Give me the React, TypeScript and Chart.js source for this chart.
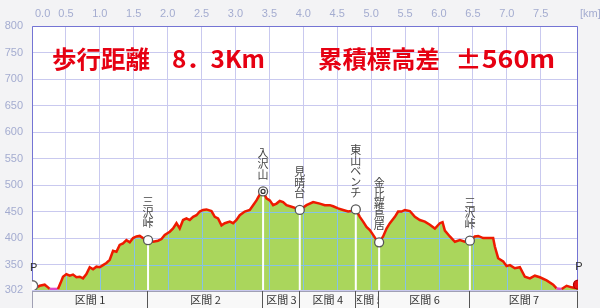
import React, { useEffect, useRef } from 'react';
import { Chart, registerables } from 'chart.js';

Chart.register(...registerables);

// ---- data ----
const distanceKm = [
  0.01, 0.065, 0.114, 0.187, 0.236, 0.261, 0.383, 0.42, 0.457, 0.507, 0.556, 0.605, 0.655, 0.704, 0.752, 0.802,
  0.851, 0.9, 0.95, 0.999, 1.047, 1.097, 1.146, 1.195, 1.245, 1.293, 1.342, 1.392, 1.441, 1.49, 1.54, 1.588,
  1.637, 1.711, 1.785, 1.858, 1.909, 1.957, 2.031, 2.08, 2.13, 2.178, 2.227, 2.277, 2.326, 2.375, 2.425, 2.473,
  2.522, 2.572, 2.646, 2.695, 2.743, 2.794, 2.842, 2.916, 2.965, 3.015, 3.063, 3.137, 3.211, 3.26, 3.31, 3.358,
  3.407, 3.457, 3.506, 3.555, 3.605, 3.653, 3.702, 3.752, 3.826, 3.9, 3.948, 4.047, 4.145, 4.243, 4.317, 4.391,
  4.44, 4.513, 4.587, 4.661, 4.711, 4.774, 4.833, 4.882, 4.932, 4.981, 5.029, 5.08, 5.118, 5.177, 5.227, 5.276,
  5.35, 5.398, 5.448, 5.497, 5.571, 5.645, 5.718, 5.792, 5.866, 5.94, 6.013, 6.053, 6.087, 6.161, 6.235, 6.308,
  6.382, 6.456, 6.529, 6.578, 6.652, 6.799, 6.824, 6.873, 6.947, 6.997, 7.046, 7.119, 7.193, 7.267, 7.341, 7.414,
  7.488, 7.587, 7.684, 7.734, 7.81, 7.882, 7.956, 8.0, 8.05,
];
const elevationM = [
  310, 307, 310, 312, 307, 304, 304, 315, 327, 332, 329, 331, 326, 327, 324, 332,
  345, 341, 346, 345, 349, 353, 359, 376, 374, 387, 390, 396, 392, 400, 403, 404,
  400, 396, 393, 395, 398, 406, 412, 418, 428, 418, 434, 437, 434, 440, 443, 450,
  453, 454, 451, 440, 437, 424, 428, 431, 428, 434, 443, 450, 453, 462, 471, 482,
  488, 475, 471, 462, 465, 470, 468, 462, 459, 456, 453, 462, 468, 465, 462, 462,
  460, 456, 453, 450, 451, 454, 440, 431, 421, 415, 406, 396, 392, 403, 418, 428,
  440, 450, 450, 453, 451, 440, 434, 431, 425, 418, 428, 430, 414, 403, 393, 396,
  393, 395, 403, 404, 400, 400, 384, 362, 356, 347, 349, 343, 345, 327, 324, 329,
  326, 320, 312, 305, 304, 310, 307, 306, 312,
];
const waypointNames = ['三沢峠', '入沢山', '見晴台', '東山ベンチ', '金比羅鳥居', '三沢峠'];
const waypointKm = [1.711, 3.407, 3.948, 4.774, 5.118, 6.456];
const waypointElev = [396, 488, 453, 454, 392, 395];
const summitIndex = 1;
const endpointKm = [0.01, 8.05];
const endpointElev = [310, 312];
const endpointLabels = ['P', 'P'];
const sectionLabels = ['区間 1', '区間 2', '区間 3', '区間 4', '区間 5', '区間 6', '区間 7'];
const xTickValues = [0, 0.5, 1, 1.5, 2, 2.5, 3, 3.5, 4, 4.5, 5, 5.5, 6, 6.5, 7, 7.5];
const yTickValues = [302, 350, 400, 450, 500, 550, 600, 650, 700, 750, 800];
const xUnitLabel = '[km]';
const titleParts = ['歩行距離', '8．3Km', '累積標高差', '±560m'];

// ---- styles ----
const TICK_COLOR = '#a4acd0';
const GRID_COLOR = '#c9c9ef';
const GRID_IN_FILL = '#86c3e6';
const FILL_COLOR = '#aad65c';
const LINE_COLOR = '#ee1a00';
const LOW_COLOR = '#e04cc8';
const TITLE_X = [52, 172, 318, 455];
const TITLE_W = [98, 93, 122, 100];

function drawFitted(ctx: CanvasRenderingContext2D, text: string, x: number, y: number, w: number) {
  const m = ctx.measureText(text).width;
  ctx.save();
  ctx.translate(x, y);
  ctx.scale(w / m, 1);
  ctx.fillText(text, 0, 0);
  ctx.restore();
}

const profilePlugin = {
  id: 'profilePlugin',
  beforeDraw(chart: any) {
    const { ctx, chartArea: a, width, height } = chart;
    ctx.save();
    ctx.fillStyle = '#f3f3f5';
    ctx.fillRect(0, 0, width, height);
    ctx.fillStyle = '#ffffff';
    ctx.fillRect(a.left, a.top, a.right - a.left, a.bottom - a.top);
    ctx.restore();
  },
  beforeDatasetsDraw(chart: any) {
    const { ctx, chartArea: a } = chart;
    ctx.save();
    ctx.strokeStyle = '#7474d4';
    ctx.lineWidth = 1;
    ctx.beginPath();
    ctx.moveTo(a.left + 0.5, a.bottom);
    ctx.lineTo(a.left + 0.5, a.top + 0.5);
    ctx.lineTo(a.right - 0.5, a.top + 0.5);
    ctx.lineTo(a.right - 0.5, a.bottom);
    ctx.stroke();
    ctx.restore();
  },
  afterDatasetDraw(chart: any, args: any) {
    if (args.index !== 1) return;
    const { ctx, chartArea: a } = chart;
    const xs = chart.scales.x;
    const ys = chart.scales.y;
    const pts = args.meta.data;
    ctx.save();
    ctx.beginPath();
    ctx.moveTo(pts[0].x, a.bottom);
    for (const p of pts) ctx.lineTo(p.x, p.y);
    ctx.lineTo(pts[pts.length - 1].x, a.bottom);
    ctx.closePath();
    ctx.clip();
    ctx.strokeStyle = GRID_IN_FILL;
    ctx.lineWidth = 1;
    ctx.beginPath();
    for (const v of xTickValues) {
      const px = Math.round(xs.getPixelForValue(v)) + 0.5;
      ctx.moveTo(px, a.top);
      ctx.lineTo(px, a.bottom);
    }
    for (const v of yTickValues) {
      const py = Math.round(ys.getPixelForValue(v)) + 0.5;
      ctx.moveTo(a.left, py);
      ctx.lineTo(a.right, py);
    }
    ctx.stroke();
    ctx.restore();
    // white drop lines from waypoints
    ctx.save();
    ctx.strokeStyle = '#ffffff';
    ctx.lineWidth = 2;
    ctx.beginPath();
    waypointKm.forEach((k, i) => {
      const px = xs.getPixelForValue(k);
      const py = ys.getPixelForValue(waypointElev[i]);
      ctx.moveTo(px, py);
      ctx.lineTo(px, a.bottom);
    });
    ctx.stroke();
    ctx.restore();
  },
  afterDraw(chart: any) {
    const { ctx, chartArea: a, height } = chart;
    const xs = chart.scales.x;
    const ys = chart.scales.y;
    ctx.save();
    // top axis labels
    ctx.font = '11px "Liberation Sans", Arial, sans-serif';
    ctx.fillStyle = TICK_COLOR;
    ctx.textBaseline = 'middle';
    ctx.textAlign = 'left';
    for (const v of xTickValues) {
      const t = v.toFixed(1);
      const w = ctx.measureText(t).width;
      let left = xs.getPixelForValue(v) - w / 2;
      if (left < a.left + 3) left = a.left + 3;
      ctx.fillText(t, left, 14);
    }
    ctx.fillText(xUnitLabel, a.right + 2, 14);

    // waypoint vertical labels
    ctx.font = '11px "Noto Sans CJK JP", sans-serif';
    ctx.fillStyle = '#444444';
    ctx.textAlign = 'center';
    waypointNames.forEach((name, i) => {
      const px = xs.getPixelForValue(waypointKm[i]);
      const py = ys.getPixelForValue(waypointElev[i]);
      const chars = Array.from(name);
      const n = chars.length;
      chars.forEach((c, j) => {
        ctx.fillText(c, px, py - 17 - (n - 1 - j) * 10.6);
      });
    });
    // P labels
    ctx.font = '11px "Liberation Sans", Arial, sans-serif';
    ctx.fillStyle = '#333333';
    endpointKm.forEach((k, i) => {
      const px = xs.getPixelForValue(k);
      ctx.fillText(endpointLabels[i], px + 1, ys.getPixelForValue(endpointElev[i]) - 18);
    });

    // section bar
    const top = a.bottom + 1;
    ctx.fillStyle = '#f8f8f8';
    ctx.fillRect(a.left, top, a.right - a.left, height - top);
    ctx.strokeStyle = '#a0a0b4';
    ctx.lineWidth = 1;
    ctx.beginPath();
    ctx.moveTo(a.left, top + 0.5);
    ctx.lineTo(a.right, top + 0.5);
    ctx.moveTo(a.left + 0.5, top);
    ctx.lineTo(a.left + 0.5, height);
    ctx.stroke();
    const bounds = [a.left, ...waypointKm.map((k) => xs.getPixelForValue(k)), a.right];
    ctx.strokeStyle = '#555555';
    ctx.beginPath();
    for (let i = 1; i < bounds.length; i++) {
      const bx = Math.round(bounds[i]) - 0.5;
      ctx.moveTo(bx, top);
      ctx.lineTo(bx, height);
    }
    ctx.stroke();
    ctx.font = '11px "Noto Sans CJK JP", sans-serif';
    ctx.fillStyle = '#333333';
    ctx.textAlign = 'center';
    sectionLabels.forEach((lab, i) => {
      const l = bounds[i];
      const r = bounds[i + 1];
      ctx.save();
      ctx.beginPath();
      ctx.rect(l + 1, top, r - l - 2, height - top);
      ctx.clip();
      ctx.fillText(lab, (l + r) / 2, 300);
      ctx.restore();
    });

    // title
    ctx.fillStyle = '#e60012';
    ctx.textAlign = 'left';
    ctx.textBaseline = 'middle';
    ctx.font = 'bold 24px "Noto Sans CJK JP", sans-serif';
    titleParts.forEach((t, i) => drawFitted(ctx, t, TITLE_X[i], 59, TITLE_W[i]));
    ctx.restore();
  },
};

export default function App() {
  const ref = useRef<HTMLCanvasElement | null>(null);
  useEffect(() => {
    if (!ref.current) return;
    const points = distanceKm.map((x, i) => ({ x, y: elevationM[i] }));
    const waypoints = waypointKm.map((x, i) => ({ x, y: waypointElev[i] }));
    const endpoints = endpointKm.map((x, i) => ({ x, y: endpointElev[i] }));
    const summit = [{ x: waypointKm[summitIndex], y: waypointElev[summitIndex] }];
    const chart = new Chart(ref.current, {
      type: 'line',
      data: {
        datasets: [
          {
            data: points,
            borderColor: LINE_COLOR,
            borderWidth: 2.5,
            pointRadius: 0,
            fill: false,
            tension: 0,
            order: 2,
            segment: {
              borderColor: (c: any) => (c.p0.parsed.y <= 306 && c.p1.parsed.y <= 306 ? LOW_COLOR : LINE_COLOR),
            },
          } as any,
          {
            data: points,
            borderWidth: 0,
            borderColor: 'rgba(0,0,0,0)',
            backgroundColor: FILL_COLOR,
            fill: 'start',
            pointRadius: 0,
            tension: 0,
            order: 3,
          },
          {
            type: 'scatter',
            data: waypoints,
            pointRadius: 4.5,
            pointBackgroundColor: '#ffffff',
            pointBorderColor: '#555555',
            pointBorderWidth: 1.3,
            order: 1,
          } as any,
          {
            type: 'scatter',
            data: endpoints,
            pointRadius: [5, 4.5],
            pointBackgroundColor: ['#ffffff', '#e81010'],
            pointBorderColor: ['#666666', '#aa0000'],
            pointBorderWidth: 1.3,
            order: 0,
          } as any,
          {
            type: 'scatter',
            data: summit,
            pointRadius: 2,
            pointBackgroundColor: '#ffffff',
            pointBorderColor: '#333333',
            pointBorderWidth: 1.2,
            order: -1,
          } as any,
        ],
      },
      options: {
        responsive: false,
        animation: false,
        events: [],
        layout: { padding: { left: 0, right: 22, top: 0, bottom: 18 } },
        plugins: { legend: { display: false }, tooltip: { enabled: false } },
        scales: {
          x: {
            type: 'linear',
            position: 'top',
            min: 0,
            max: 8.05,
            afterBuildTicks: (s: any) => {
              s.ticks = xTickValues.map((v) => ({ value: v }));
            },
            ticks: { display: false },
            grid: { color: GRID_COLOR, drawTicks: false, lineWidth: 1 },
            border: { display: false },
            afterFit: (s: any) => {
              s.height = 26;
            },
          },
          y: {
            type: 'linear',
            min: 302,
            max: 800,
            afterBuildTicks: (s: any) => {
              s.ticks = yTickValues.map((v) => ({ value: v }));
            },
            ticks: {
              autoSkip: false,
              color: TICK_COLOR,
              padding: 9,
              font: { family: '"Liberation Sans", Arial, sans-serif', size: 11 },
            },
            grid: { color: GRID_COLOR, drawTicks: false, lineWidth: 1 },
            border: { display: false },
            afterFit: (s: any) => {
              s.width = 32;
            },
          },
        },
      } as any,
      plugins: [profilePlugin],
    });
    return () => chart.destroy();
  }, []);
  return (
    <div style={{ position: 'absolute', left: 0, top: 0, width: 600, height: 308 }}>
      <canvas ref={ref} width={600} height={308} />
    </div>
  );
}
